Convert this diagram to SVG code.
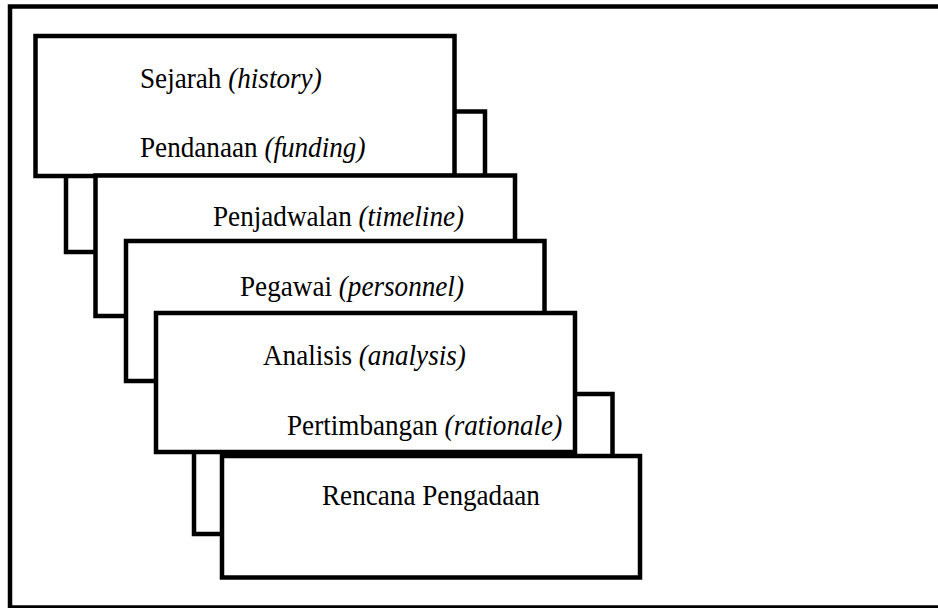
<svg xmlns="http://www.w3.org/2000/svg" width="938" height="608" viewBox="0 0 938 608">
  <style>
    .frame { fill: none; stroke: #000; stroke-width: 4.5; }
    .card { fill: #fff; stroke: #000; stroke-width: 4.5; stroke-linejoin: miter; }
    .label { font-family: "Liberation Serif", "Times New Roman", serif; font-size: 30px; fill: #000; }
    .it { font-style: italic; }
  </style>
  <rect width="938" height="608" fill="#fff"/>

  <!-- outer frame (right edge runs past the canvas) -->
  <rect class="frame" x="10" y="6.5" width="940" height="601"/>

  <!-- stacked sheets, back to front -->
  <g id="sheet-b">
    <rect class="card" x="66" y="111.5" width="419" height="140.5"/>
  </g>
  <g id="sheet-history-funding">
    <rect class="card" x="35.5" y="36" width="419" height="140"/>
    <text class="label" transform="translate(140,88) scale(0.905,1)">Sejarah <tspan class="it">(history)</tspan></text>
    <text class="label" transform="translate(140,156.5) scale(0.905,1)">Pendanaan <tspan class="it">(funding)</tspan></text>
  </g>
  <g id="sheet-timeline">
    <rect class="card" x="95.5" y="175.5" width="419.5" height="140.5"/>
    <text class="label" transform="translate(213,226) scale(0.905,1)">Penjadwalan <tspan class="it">(timeline)</tspan></text>
  </g>
  <g id="sheet-personnel">
    <rect class="card" x="126" y="241" width="418.5" height="140"/>
    <text class="label" transform="translate(240,296) scale(0.905,1)">Pegawai <tspan class="it">(personnel)</tspan></text>
  </g>
  <g id="sheet-f">
    <rect class="card" x="194" y="394" width="418.5" height="140"/>
  </g>
  <g id="sheet-analysis-rationale">
    <rect class="card" x="156" y="313" width="419" height="139"/>
    <text class="label" transform="translate(263,365) scale(0.905,1)">Analisis <tspan class="it">(analysis)</tspan></text>
    <text class="label" transform="translate(287,435) scale(0.905,1)">Pertimbangan <tspan class="it">(rationale)</tspan></text>
  </g>
  <g id="sheet-procurement-plan">
    <rect class="card" x="222" y="456" width="418" height="121.5"/>
    <text class="label" transform="translate(322,505) scale(0.905,1)">Rencana Pengadaan</text>
  </g>

  <!-- no connectors in this figure -->
  <g id="connectors"/>
</svg>
